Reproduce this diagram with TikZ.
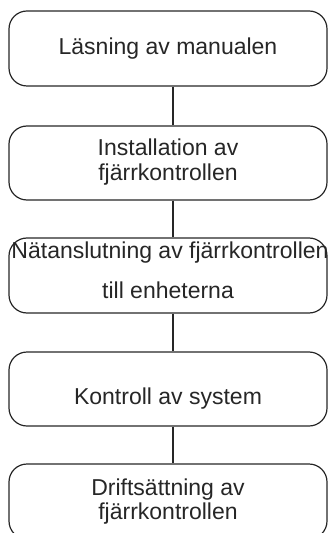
\documentclass[tikz,border=0pt]{standalone}
\usepackage{fontspec}
\setmainfont{Liberation Sans}
\definecolor{ink}{HTML}{262626}
\begin{document}
\begin{tikzpicture}[x=0.5pt,y=-0.5pt,
  stepbox/.style={draw=ink,line width=0.6pt,rounded corners=9pt,minimum width=159pt,inner sep=0pt},
  lbl/.style={anchor=base,inner sep=0pt,text=ink,font=\fontsize{11.5}{14}\selectfont},
  conn/.style={draw=ink,line width=0.55pt}]
\useasboundingbox (0,0) rectangle (329,533);
\node[stepbox,minimum height=37.5pt] (b1) at (168,48.5) {};
\node[stepbox,minimum height=37pt] (b2) at (168,163) {};
\node[stepbox,minimum height=37.5pt] (b3) at (168,275.5) {};
\node[stepbox,minimum height=37pt] (b4) at (168,389) {};
\node[stepbox,minimum height=37.5pt] (b5) at (168,501.5) {};
\node[lbl] (t1) at (168,55) {Läsning av manualen};
\node[lbl] (t2a) at (168,156) {Installation av};
\node[lbl] (t2b) at (168,181) {fjärrkontrollen};
\node[lbl] (t3a) at (170,258) {Nätanslutning av fjärrkontrollen};
\node[lbl] (t3b) at (168,298) {till enheterna};
\node[lbl] (t4) at (168,404) {Kontroll av system};
\node[lbl] (t5a) at (168,495) {Driftsättning av};
\node[lbl] (t5b) at (168,519) {fjärrkontrollen};
\draw[conn] ([xshift=2.5pt]b1.south) -- ([xshift=2.5pt]b2.north);
\draw[conn] ([xshift=2.5pt]b2.south) -- ([xshift=2.5pt]b3.north);
\draw[conn] ([xshift=2.5pt]b3.south) -- ([xshift=2.5pt]b4.north);
\draw[conn] ([xshift=2.5pt]b4.south) -- ([xshift=2.5pt]b5.north);
\end{tikzpicture}
\end{document}
